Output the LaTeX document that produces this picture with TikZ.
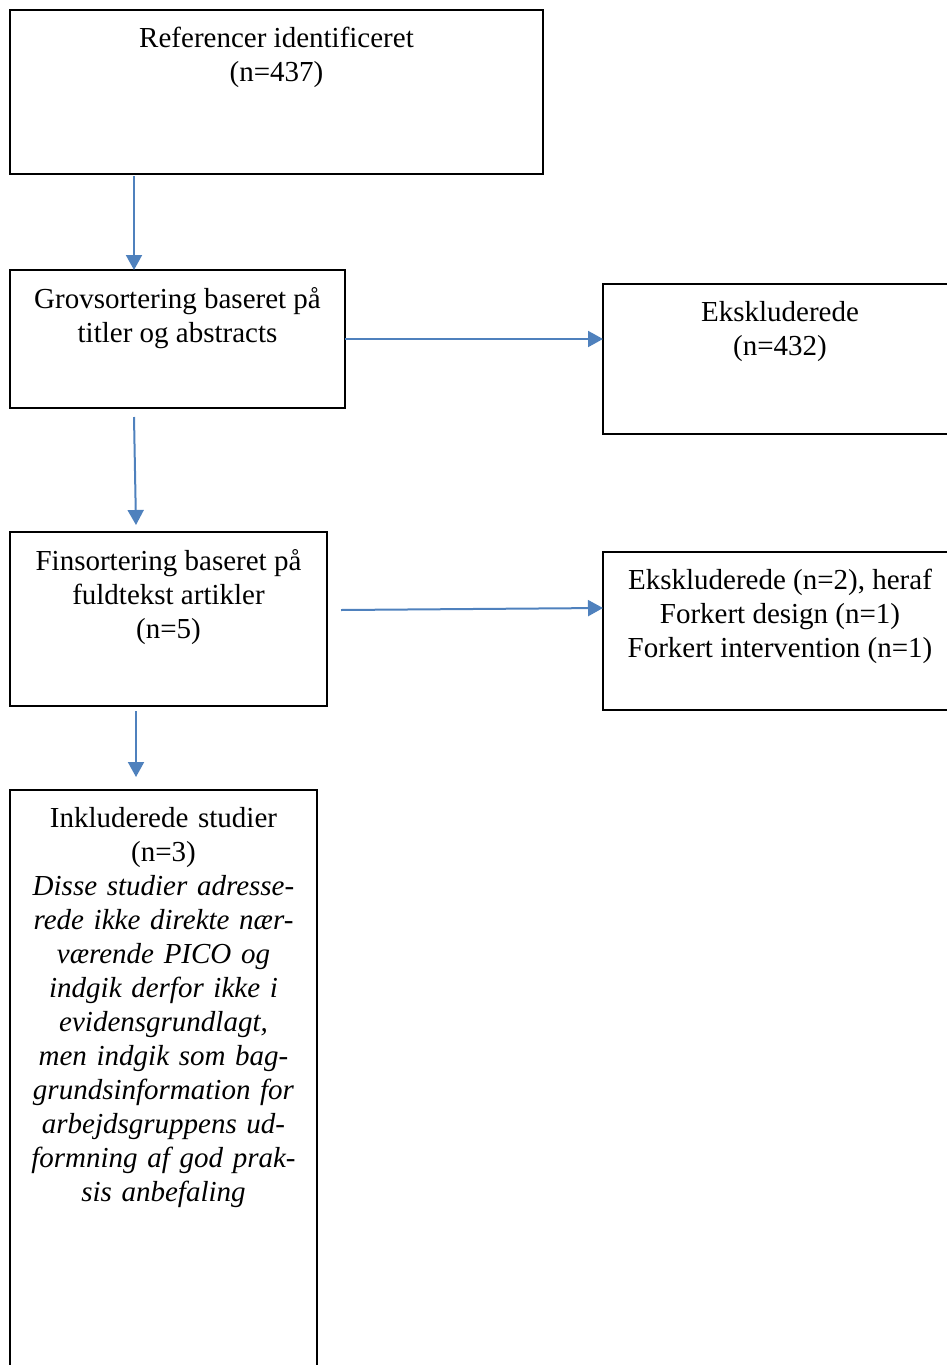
\documentclass[tikz,border=0pt]{standalone}
\usepackage{fontspec}
\setmainfont{Liberation Serif}
\usetikzlibrary{arrows.meta}
\definecolor{flowblue}{RGB}{79,129,189}
\tikzset{
  box/.style={draw, line width=0.75pt, inner sep=0pt, outer sep=0pt, anchor=north west},
  boxtext/.style={anchor=north, inner sep=0pt, align=center, yshift=-8.5pt},
  flow/.style={flowblue, line width=1pt, -{Triangle[length=7.5pt,width=8pt]}}
}
\begin{document}
\begin{tikzpicture}[x=0.5pt, y=-0.5pt, font=\fontsize{14.5}{17}\selectfont]
    \useasboundingbox (0,0) rectangle (947,1365);
    \node [box, minimum width=266.5pt, minimum height=82pt] (refs) at (10,10) {};
    \node [box, minimum width=167.5pt, minimum height=69pt] (grov) at (10,270) {};
    \node [box, minimum width=177pt, minimum height=75pt] (eks1) at (603,284) {};
    \node [box, minimum width=158.5pt, minimum height=87pt] (fin) at (10,532) {};
    \node [box, minimum width=177pt, minimum height=79pt] (eks2) at (603,552) {};
    \node [box, minimum width=153.5pt, minimum height=310pt] (incl) at (10,790) {};
    \node [boxtext] (refst) at (refs.north) {Referencer identificeret\\(n=437)};
    \node [boxtext] (grovt) at (grov.north) {Grovsortering baseret på\\titler og abstracts};
    \node [boxtext] (eks1t) at (eks1.north) {Ekskluderede\\(n=432)};
    \node [boxtext] (fint) at (fin.north) {Finsortering baseret på\\fuldtekst artikler\\(n=5)};
    \node [boxtext] (eks2t) at (eks2.north) {Ekskluderede (n=2), heraf\\Forkert design (n=1)\\Forkert intervention (n=1)};
    \node [boxtext, text width=150pt] (inclt) at (incl.north) {Inkluderede studier\\(n=3)\\\itshape
      Disse studier adresse-\\rede ikke direkte nær-\\værende PICO og\\indgik derfor ikke i\\evidensgrundlagt,\\
      men indgik som bag-\\grundsinformation for\\arbejdsgruppens ud-\\formning af god prak-\\sis anbefaling};
    \draw [flow] ([xshift=62pt, yshift=-1pt]refs.south west) -- ([xshift=62pt]grov.north west);
    \draw [flow] (grov.east) -- (grov.east -| eks1.west);
    \draw [flow] ([xshift=62pt, yshift=-4.5pt]grov.south west) -- ([xshift=63pt, yshift=3.5pt]fin.north west);
    \draw [flow] ([xshift=7pt, yshift=4.5pt]fin.east) -- ([yshift=-28pt]eks2.north west);
    \draw [flow] ([xshift=63pt, yshift=-2.5pt]fin.south west) -- ([xshift=63pt, yshift=6.5pt]incl.north west);
  \end{tikzpicture}
\end{document}
